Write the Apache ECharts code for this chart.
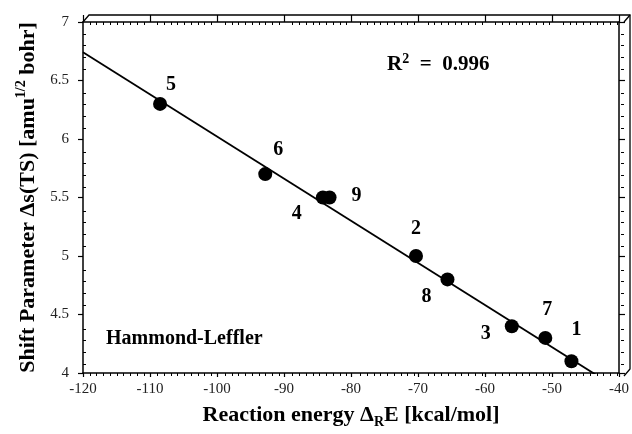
<!DOCTYPE html>
<html>
<head>
<meta charset="utf-8">
<script src="https://cdn.jsdelivr.net/npm/echarts@6/dist/echarts.min.js"></script>
<style>
  html, body { margin: 0; padding: 0; background: #fff; }
  #chart { width: 632px; height: 434px; }
</style>
</head>
<body>
<div id="chart"></div>
<script>
// Compounds: reaction energy vs. transition-state shift parameter
const compoundIds    = ['1', '2', '3', '4', '5', '6', '7', '8', '9'];
const reactionEnergy = [-47.1, -70.3, -56.0, -84.2, -108.5, -92.8, -51.0, -65.6, -83.2];
const shiftParameter = [4.10, 5.00, 4.40, 5.50, 6.30, 5.70, 4.30, 4.80, 5.50];

// Linear fit  Δs = fitIntercept + fitSlope · ΔRE
const fitSlope = -0.0360;
const fitIntercept = 2.421;
const fitXRange = [-120, -40];
const rSquaredText = '0.996';

// Axis ranges
const xRange = { min: -120, max: -40, step: 10, minorSplit: 10 };
const yRange = { min: 4, max: 7, step: 0.5, minorSplit: 5 };

// Label placement around each marker (px), keyed by compound
const labelOffset = {
  '1': [5, -31], '2': [0, -27], '3': [-26, 8], '4': [-26, 16], '5': [11, -19],
  '6': [13, -24], '7': [2, -28], '8': [-21, 17], '9': [27, -2]
};

const W = 632, H = 434;
const plot = { left: 83, top: 22, right: 624, bottom: 376 };
const depth = [6, -7];          // offset of the back frame
const serif = 'Liberation Serif';
const ink = '#000';

const gridRect = {
  left: plot.left, top: plot.top,
  width: plot.right - plot.left, height: plot.bottom - plot.top
};

function majorAxis(kind, pos, tickLen, showLabel, extra) {
  const r = kind === 'x' ? xRange : yRange;
  return Object.assign({
    type: 'value', gridIndex: 0, position: pos,
    min: r.min, max: r.max, interval: r.step,
    axisLine: { show: true, onZero: false, lineStyle: { color: ink, width: 1.5 } },
    axisTick: { show: true, inside: false, length: tickLen, lineStyle: { color: ink, width: 1.2 } },
    minorTick: { show: false },
    splitLine: { show: false },
    axisLabel: {
      show: showLabel, fontFamily: serif, fontSize: 15, color: '#222',
      margin: kind === 'x' ? 9 : 14
    }
  }, extra || {});
}

function minorAxis(kind, pos) {
  const r = kind === 'x' ? xRange : yRange;
  return {
    type: 'value', gridIndex: 1, position: pos,
    min: r.min, max: r.max, interval: r.step,
    axisLine: { show: false, onZero: false },
    axisTick: { show: false, inside: true },
    minorTick: { show: true, splitNumber: r.minorSplit, length: 3, lineStyle: { color: ink, width: 1 } },
    splitLine: { show: false },
    axisLabel: { show: false }
  };
}

function titleRich(size) {
  return {
    b:   { fontFamily: serif, fontWeight: 'bold', fontSize: size, color: ink, lineHeight: size + 5 },
    sub: { fontFamily: serif, fontWeight: 'bold', fontSize: 14, color: ink, lineHeight: 14, verticalAlign: 'bottom' },
    sup: { fontFamily: serif, fontWeight: 'bold', fontSize: 14, color: ink, lineHeight: 14, verticalAlign: 'top' }
  };
}

const points = compoundIds.map((id, i) => ({
  value: [reactionEnergy[i], shiftParameter[i], id],
  label: { offset: labelOffset[id] }
}));

const fitLine = fitXRange.map(x => [x, fitIntercept + fitSlope * x]);

// back frame of the plot box, drawn from the plot rectangle
const back = {
  tl: [plot.left + depth[0], plot.top + depth[1]],
  tr: [plot.right + depth[0], plot.top + depth[1]],
  br: [plot.right + depth[0], plot.bottom + depth[1]]
};
const frameStyle = { stroke: ink, lineWidth: 1.3, fill: null };

const chart = echarts.init(document.getElementById('chart'), null, { renderer: 'canvas', width: W, height: H });

chart.setOption({
  animation: false,
  backgroundColor: '#fff',
  grid: [
    Object.assign({ containLabel: false }, gridRect),
    Object.assign({ containLabel: false }, gridRect)
  ],
  xAxis: [
    majorAxis('x', 'bottom', 4, true, {
      name: '{b|Reaction energy Δ}{sub|R}{b|E [kcal/mol]}',
      nameLocation: 'middle', nameGap: 29,
      nameTextStyle: { rich: titleRich(22) }
    }),
    majorAxis('x', 'top', 7, false),
    minorAxis('x', 'bottom'),
    minorAxis('x', 'top')
  ],
  yAxis: [
    majorAxis('y', 'left', 5, true, {
      name: '{b|Shift Parameter Δs(TS) [amu}{sup|1/2}{b| bohr]}',
      nameLocation: 'middle', nameGap: 41,
      nameTextStyle: { rich: titleRich(22) }
    }),
    majorAxis('y', 'right', 6, false),
    minorAxis('y', 'left'),
    minorAxis('y', 'right')
  ],
  series: [
    {
      type: 'line', xAxisIndex: 0, yAxisIndex: 0,
      data: fitLine, clip: true, symbol: 'none',
      lineStyle: { color: ink, width: 1.8 }, z: 2
    },
    {
      type: 'scatter', xAxisIndex: 0, yAxisIndex: 0,
      data: points, symbol: 'circle', symbolSize: 14,
      itemStyle: { color: ink, opacity: 1 }, z: 3,
      label: {
        show: true, position: 'inside',
        formatter: p => p.value[2],
        fontFamily: serif, fontWeight: 'bold', fontSize: 20, color: ink
      }
    }
  ],
  graphic: [
    { type: 'polyline', silent: true,
      shape: { points: [[plot.left, plot.top], back.tl, back.tr, back.br, [plot.right, plot.bottom]] },
      style: frameStyle },
    { type: 'line', silent: true,
      shape: { x1: back.tr[0], y1: back.tr[1], x2: plot.right, y2: plot.top },
      style: frameStyle },
    { type: 'text', silent: true, x: 387, y: 65,
      style: {
        text: '{b|R}{s|2}{b|  =  ' + rSquaredText + '}',
        verticalAlign: 'middle',
        rich: {
          b: { fontFamily: serif, fontWeight: 'bold', fontSize: 21, fill: ink, lineHeight: 26 },
          s: { fontFamily: serif, fontWeight: 'bold', fontSize: 14, fill: ink, lineHeight: 14, verticalAlign: 'top' }
        }
      } },
    { type: 'text', silent: true, x: 106, y: 339,
      style: {
        text: 'Hammond-Leffler', verticalAlign: 'middle',
        fontFamily: serif, fontWeight: 'bold', fontSize: 20, fill: ink
      } }
  ]
});
</script>
</body>
</html>
